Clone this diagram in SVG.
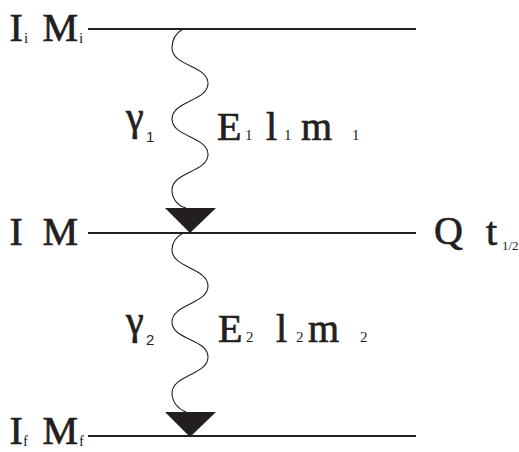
<svg xmlns="http://www.w3.org/2000/svg" width="519" height="452" viewBox="0 0 519 452">
<style>
.t{font-family:"Liberation Serif","Times New Roman",serif;font-size:40px;fill:#231f20;stroke:#231f20;stroke-width:0.7}
.s{font-family:"Liberation Serif","Times New Roman",serif;font-size:15px;fill:#231f20}
.ss{font-family:"Liberation Sans",Arial,sans-serif;font-size:15px;fill:#231f20}
.lvl{stroke:#231f20;stroke-width:2;fill:none}
.wave{stroke:#231f20;stroke-width:1.1;fill:none}
.head{fill:#231f20}
</style>
<g id="level-initial">
<line class="lvl" x1="88" y1="29" x2="416" y2="29"/>
<text class="t" x="9.5" y="41">I</text><text class="s" x="24" y="43">i</text>
<text class="t" x="42.5" y="41">M</text><text class="s" x="79" y="43">i</text>
</g>
<g id="level-intermediate">
<line class="lvl" x1="88" y1="233" x2="416" y2="233"/>
<text class="t" x="9.5" y="245">I</text>
<text class="t" x="42.5" y="245">M</text>
<text class="t" x="434" y="244">Q</text>
<text class="t" x="486" y="245">t</text><text class="s" x="502" y="250" style="font-size:13px">1/2</text>
</g>
<g id="level-final">
<line class="lvl" x1="88" y1="436" x2="416" y2="436"/>
<text class="t" x="9.5" y="444">I</text><text class="s" x="23" y="446">f</text>
<text class="t" x="42.5" y="444">M</text><text class="s" x="79" y="446">f</text>
</g>
<g id="connectors">
<path class="wave" d="M183,29 C176,33 172,40 172,48 C172,66 208,65.5 208,83.5 C208,101 172,101 172,119 C172,137 208,136.5 208,154.5 C208,172 172,172 172,190 C172,199 178,206 186,208"/>
<polygon class="head" points="165,208 216,208 190,233"/>
<path class="wave" d="M183,233 C176,237 172,243 172,250 C172,268 208,268 208,286 C208,304 172,304 172,322 C172,340 208,339 208,357 C208,375 172,375 172,393 C172,402 178,409 186,412"/>
<polygon class="head" points="165,412 216,412 190,437"/>
</g>
<g id="label-gamma1">
<text class="t" x="126" y="130">γ</text><text class="ss" x="146" y="142">1</text>
<text class="t" x="217" y="140">E</text><text class="s" x="245" y="140">1</text>
<text class="t" x="266" y="140">l</text><text class="s" x="284" y="140">1</text>
<text class="t" x="301" y="140">m</text><text class="s" x="352" y="140">1</text>
</g>
<g id="label-gamma2">
<text class="t" x="126" y="334">γ</text><text class="ss" x="146" y="345">2</text>
<text class="t" x="218" y="342">E</text><text class="s" x="246" y="342">2</text>
<text class="t" x="276" y="342">l</text><text class="s" x="296" y="342">2</text>
<text class="t" x="308" y="342">m</text><text class="s" x="360" y="342">2</text>
</g>
</svg>
